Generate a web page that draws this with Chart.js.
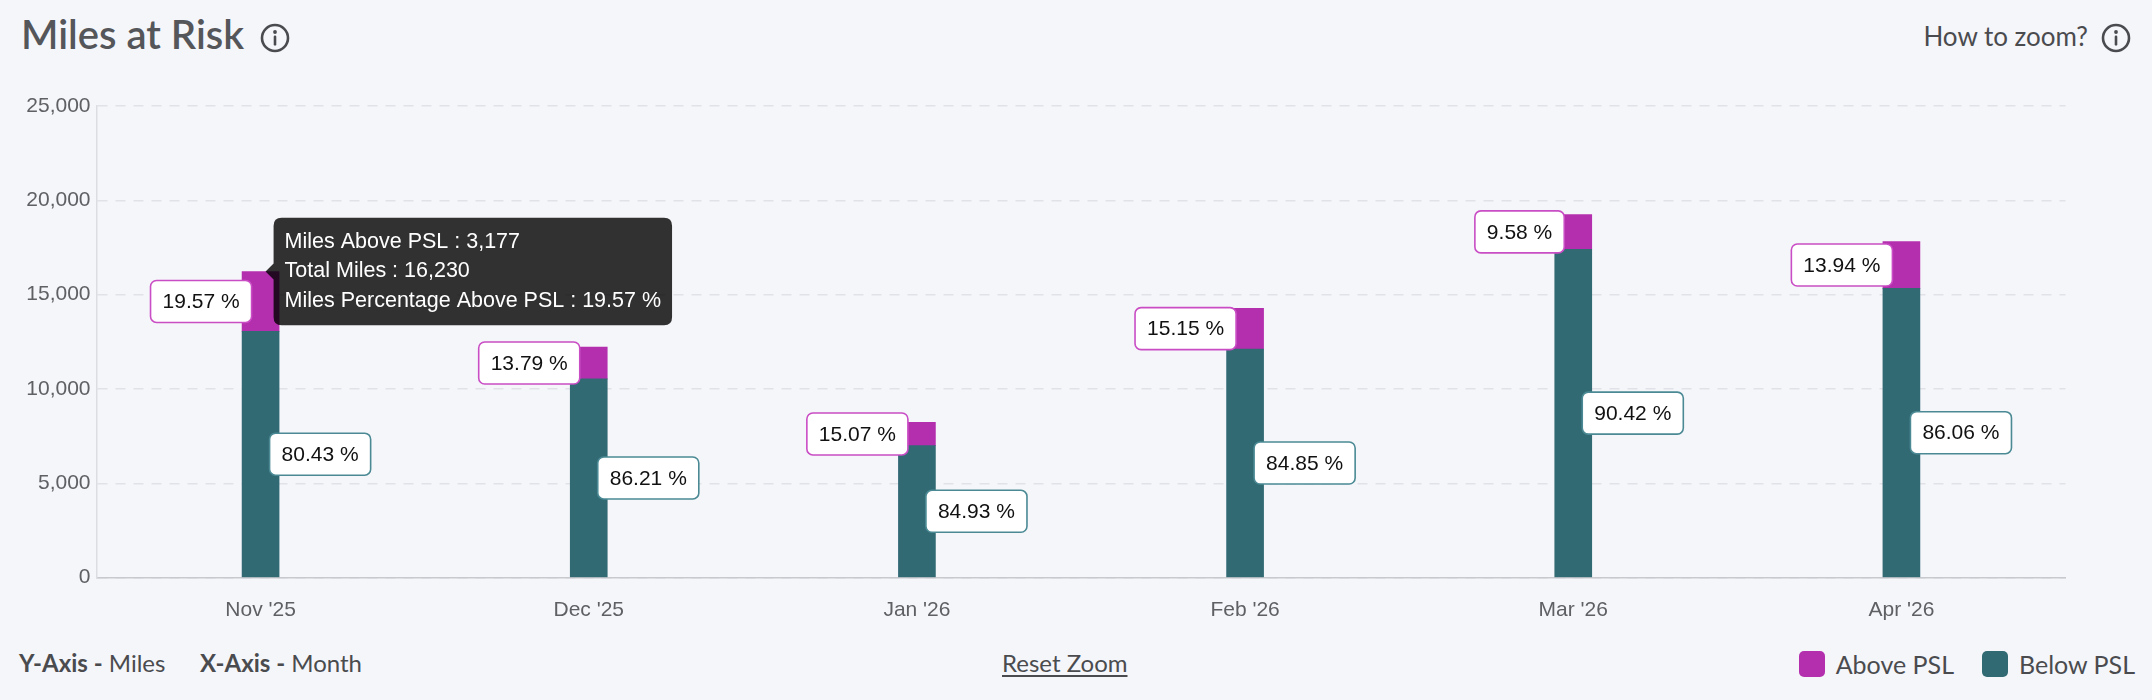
<!DOCTYPE html>
<html>
<head>
<meta charset="utf-8">
<title>Miles at Risk</title>
<script src="https://cdn.jsdelivr.net/npm/chart.js@4.4.1/dist/chart.umd.min.js"></script>
<style>
    html, body { margin: 0; padding: 0; }
    body {
        width: 2152px; height: 700px; overflow: hidden; position: relative;
        background: #f5f6fa; font-family: Lato, "Open Sans", sans-serif; color: #4a4b4e;
    }
    #chartWrap { position: absolute; left: 0; top: 0; width: 2152px; height: 640px; }
    .title { position: absolute; left: 21px; top: 14px; font-size: 40px; line-height: 1; font-weight: 600; color: #55565a; }
    .zoomHelp { position: absolute; right: 64px; top: 23px; font-size: 26px; line-height: 1; }
    .icon { position: absolute; width: 30px; height: 30px; }
    .footer { position: absolute; top: 651px; font-size: 24px; line-height: 1; white-space: nowrap; }
    .footer b { font-weight: 700; }
    .reset { text-decoration: underline; text-underline-offset: 3px; }
    .legend { position: absolute; top: 651px; right: 17px; display: flex; font-size: 25px; line-height: 1; }
    .legend .item { display: flex; align-items: center; margin-left: 28px; }
    .legend .box { width: 26px; height: 26px; border-radius: 5px; margin-right: 11px; }
</style>
</head>
<body>
<div class="title">Miles at Risk</div>
<svg class="icon" style="left:260px;top:23px" viewBox="0 0 30 30">
    <circle cx="15" cy="15" r="13" fill="none" stroke="#4a4b4e" stroke-width="2.6"/>
    <circle cx="15" cy="9" r="1.9" fill="#4a4b4e"/>
    <rect x="13.7" y="12.6" width="2.6" height="10" rx="1.2" fill="#4a4b4e"/>
</svg>
<div class="zoomHelp">How to zoom?</div>
<svg class="icon" style="left:2101px;top:23px" viewBox="0 0 30 30">
    <circle cx="15" cy="15" r="13" fill="none" stroke="#4a4b4e" stroke-width="2.6"/>
    <circle cx="15" cy="9" r="1.9" fill="#4a4b4e"/>
    <rect x="13.7" y="12.6" width="2.6" height="10" rx="1.2" fill="#4a4b4e"/>
</svg>

<div id="chartWrap"><canvas id="milesChart"></canvas></div>

<div class="footer" style="left:19px"><b>Y-Axis -</b> Miles</div>
<div class="footer" style="left:200px"><b>X-Axis -</b> Month</div>
<div class="footer reset" style="left:1002px">Reset Zoom</div>
<div class="legend" id="legend"></div>

<script>
// Donnees
const months = ["Nov '25", "Dec '25", "Jan '26", "Feb '26", "Mar '26", "Apr '26"];
const milesBelowPsl = [13053, 10535, 6998, 12117, 17406, 15332];
const milesAbovePsl = [3177, 1685, 1242, 2163, 1844, 2483];
const pctBelowPsl = ['80.43', '86.21', '84.93', '84.85', '90.42', '86.06'];
const pctAbovePsl = ['19.57', '13.79', '15.07', '15.15', '9.58', '13.94'];
const yTicks = [0, 5000, 10000, 15000, 20000, 25000];

const colorAbove = '#b42fae';
const colorBelow = '#326a74';
const labelFont = '21px "Liberation Sans", Arial, sans-serif';

// Etiquettes de pourcentage sur chaque segment
const pctLabelPlugin = {
    id: 'pctLabels',
    afterDatasetsDraw(chart) {
        const ctx = chart.ctx;
        ctx.save();
        ctx.font = labelFont;
        ctx.textBaseline = 'middle';
        chart.data.datasets.forEach((ds, di) => {
            const meta = chart.getDatasetMeta(di);
            meta.data.forEach((bar, i) => {
                const text = ds.pct[i] + ' %';
                const w = ctx.measureText(text).width + 24;
                const h = 42;
                const cy = (bar.y + bar.base) / 2;
                const x = ds.side === 'left' ? bar.x - 9 - w : bar.x + 9;
                const y = cy - h / 2;
                ctx.beginPath();
                ctx.roundRect(x, y, w, h, 6);
                ctx.fillStyle = '#ffffff';
                ctx.fill();
                ctx.lineWidth = 1.6;
                ctx.strokeStyle = ds.labelBorder;
                ctx.stroke();
                ctx.fillStyle = '#111111';
                ctx.textAlign = 'center';
                ctx.fillText(text, x + w / 2, cy + 1);
            });
        });
        ctx.restore();
    }
};

// Positionne la bulle au sommet de la barre
Chart.Tooltip.positioners.barTop = function(items) {
    if (!items.length) return false;
    const el = items[0].element;
    return { x: el.x, y: el.y };
};

const ctx = document.getElementById('milesChart').getContext('2d');
const milesChart = new Chart(ctx, {
    type: 'bar',
    data: {
        labels: months,
        datasets: [
            {
                label: 'Below PSL',
                data: milesBelowPsl,
                pct: pctBelowPsl,
                side: 'right',
                labelBorder: '#4b8a94',
                backgroundColor: colorBelow,
                hoverBackgroundColor: colorBelow,
                barThickness: 37
            },
            {
                label: 'Above PSL',
                data: milesAbovePsl,
                pct: pctAbovePsl,
                side: 'left',
                labelBorder: '#c94dc4',
                backgroundColor: colorAbove,
                hoverBackgroundColor: colorAbove,
                barThickness: 37
            }
        ]
    },
    options: {
        responsive: true,
        maintainAspectRatio: false,
        animation: false,
        layout: { padding: { top: 106, left: 0, right: 86.5, bottom: 0 } },
        scales: {
            x: {
                stacked: true,
                grid: { display: false },
                border: { display: true, color: '#c8c9ce', width: 1.5 },
                ticks: { color: '#5f6063', font: { family: '"Liberation Sans", Arial, sans-serif', size: 21 }, padding: 12 },
                afterFit: scale => { scale.height = 62.3; }
            },
            y: {
                stacked: true,
                min: 0,
                max: 25000,
                grid: { color: '#e1e2e7', lineWidth: 1.5, drawTicks: false },
                border: { display: true, color: '#dcdde2', width: 1.5, dash: [10, 8] },
                afterBuildTicks: scale => { scale.ticks = yTicks.map(v => ({ value: v })); },
                ticks: {
                    color: '#5f6063',
                    font: { family: '"Liberation Sans", Arial, sans-serif', size: 21 },
                    padding: 6,
                    callback: v => v.toLocaleString('en-US')
                },
                afterFit: scale => { scale.width = 96.5; }
            }
        },
        plugins: {
            legend: { display: false },
            tooltip: {
                position: 'barTop',
                xAlign: 'left',
                yAlign: 'center',
                backgroundColor: 'rgba(0,0,0,0.8)',
                bodyColor: '#ffffff',
                bodyFont: { family: '"Liberation Sans", Arial, sans-serif', size: 21.5 },
                bodySpacing: 4,
                padding: 11,
                cornerRadius: 8,
                caretSize: 8,
                caretPadding: 5,
                displayColors: false,
                callbacks: {
                    title: () => '',
                    label: function(context) {
                        const i = context.dataIndex;
                        const total = milesBelowPsl[i] + milesAbovePsl[i];
                        return [
                            'Miles Above PSL : ' + milesAbovePsl[i].toLocaleString('en-US'),
                            'Total Miles : ' + total.toLocaleString('en-US'),
                            'Miles Percentage Above PSL : ' + pctAbovePsl[i] + ' %'
                        ];
                    }
                }
            }
        }
    },
    plugins: [pctLabelPlugin]
});

// Bulle active sur Nov '25 comme sur la capture
milesChart.tooltip.setActiveElements([{ datasetIndex: 1, index: 0 }], { x: 0, y: 0 });
milesChart.update();

// Legende HTML, construite depuis les jeux de donnees
const legendEl = document.getElementById('legend');
[1, 0].forEach(di => {
    const ds = milesChart.data.datasets[di];
    const item = document.createElement('div');
    item.className = 'item';
    item.innerHTML = '<span class="box" style="background:' + ds.backgroundColor + '"></span>' + ds.label;
    legendEl.appendChild(item);
});
</script>
</body>
</html>
